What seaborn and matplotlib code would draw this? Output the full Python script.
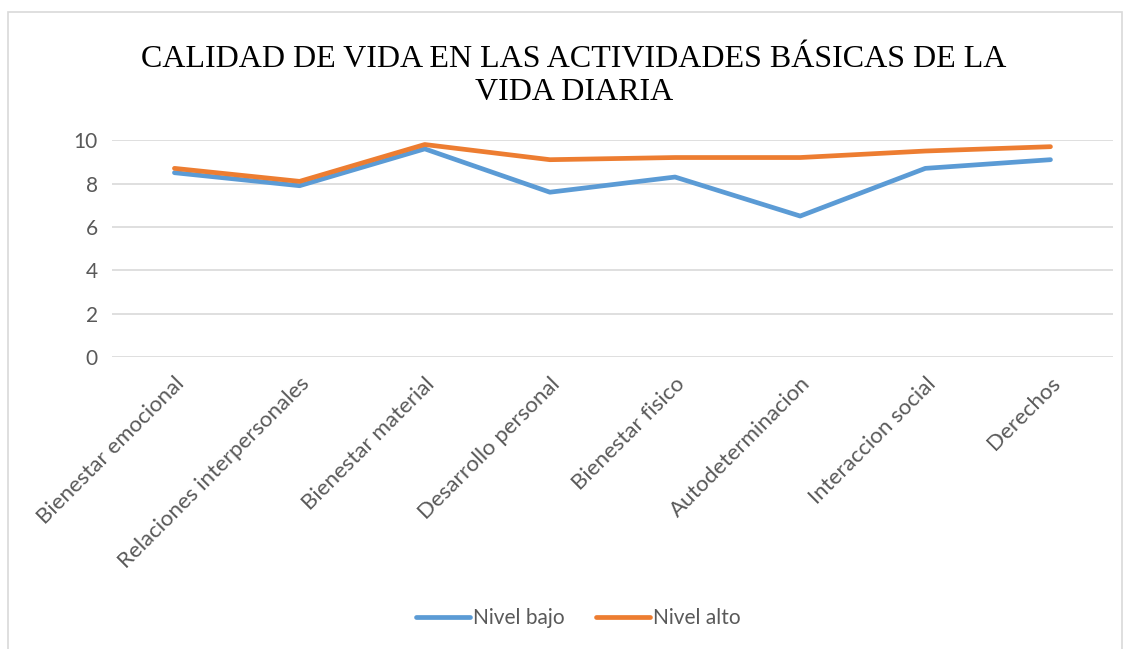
import pandas as pd
import matplotlib.pyplot as plt
import seaborn as sns
from matplotlib.patches import Rectangle

categorias = ["Bienestar emocional", "Relaciones interpersonales", "Bienestar material",
              "Desarrollo personal", "Bienestar fisico", "Autodeterminacion",
              "Interaccion social", "Derechos"]
nivel_bajo = [8.5, 7.9, 9.6, 7.6, 8.3, 6.5, 8.7, 9.1]
nivel_alto = [8.7, 8.1, 9.8, 9.1, 9.2, 9.2, 9.5, 9.7]
series = ["Nivel bajo", "Nivel alto"]
yticks = [0, 2, 4, 6, 8, 10]

df = pd.DataFrame({
    "categoria": categorias * 2,
    "valor": nivel_bajo + nivel_alto,
    "serie": [series[0]] * len(categorias) + [series[1]] * len(categorias),
})

sns.set_style("white")
plt.rcParams["font.family"] = ["Lato", "DejaVu Sans"]

fig = plt.figure(figsize=(11.3, 6.49), dpi=100)
ax = fig.add_axes([0.099, 0.45, 0.886, 0.334])

sns.lineplot(data=df, x="categoria", y="valor", hue="serie", sort=False,
             palette={"Nivel bajo": "#5B9BD5", "Nivel alto": "#ED7D31"},
             linewidth=3.4, ax=ax)
for ln in ax.get_lines():
    ln.set_solid_capstyle("round")
    ln.set_solid_joinstyle("round")

ax.set_xlim(-0.5, len(categorias) - 0.5)
ax.set_ylim(0, 10)
ax.set_yticks(yticks)
ax.set_yticklabels([str(t) for t in yticks], fontsize=15, color="#595959")
ax.set_xticks(range(len(categorias)))
ax.set_xticklabels(categorias, rotation=45, ha="right", rotation_mode="anchor",
                   fontsize=16, color="#595959")
ax.tick_params(axis="y", length=0, pad=10)
ax.tick_params(axis="x", length=0, pad=12)
ax.yaxis.grid(True, color="#D9D9D9", linewidth=1.2)
ax.set_axisbelow(True)
for s in ax.spines.values():
    s.set_visible(False)
ax.set_xlabel("")
ax.set_ylabel("")

fig.text(0.508, 0.883, "CALIDAD DE VIDA EN LAS ACTIVIDADES BÁSICAS DE LA\nVIDA DIARIA",
         ha="center", va="center", fontsize=23, family="Liberation Serif",
         linespacing=1.2, color="black")

handles, labels = ax.get_legend_handles_labels()
ax.get_legend().remove()
leg = fig.legend(handles, labels, loc="center", bbox_to_anchor=(0.512, 0.047),
                 ncol=2, frameon=False, fontsize=15, handlelength=2.6,
                 handletextpad=0.15, columnspacing=1.5)
for t in leg.get_texts():
    t.set_color("#595959")

fig.patches.append(Rectangle((0.007, -0.01), 0.986, 0.992, transform=fig.transFigure,
                             fill=False, edgecolor="#D9D9D9", linewidth=1.2))

fig.savefig("out.png", dpi=100)
